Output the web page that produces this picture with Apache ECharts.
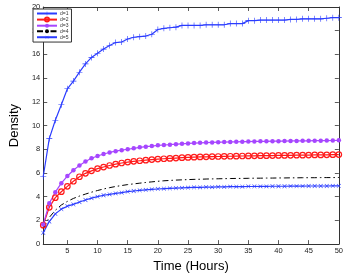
<!DOCTYPE html>
<html><head><meta charset="utf-8">
<script src="https://cdn.jsdelivr.net/npm/echarts@6/dist/echarts.min.js"></script>
<style>html,body{margin:0;padding:0;background:#fff}#c{width:346px;height:278px}</style>
</head><body><div id="c"></div>
<script>
const hours = Array.from({length:50},(_,i)=>i+1);
const xTicks = [5,10,15,20,25,30,35,40,45,50];
const seriesNames = ['d=1','d=2','d=3','d=4','d=5'];
const d1 = [5.7,8.9,10.45,11.75,13.1,13.75,14.5,15.2,15.75,16.1,16.45,16.75,17.0,17.05,17.3,17.45,17.5,17.55,17.7,18.1,18.2,18.25,18.3,18.45,18.45,18.45,18.45,18.5,18.5,18.5,18.5,18.6,18.6,18.6,18.85,18.85,18.9,18.9,18.9,18.9,18.9,18.95,18.95,19.0,19.0,19.0,19.0,19.05,19.1,19.1];
const d2 = [1.6,3.1,3.92,4.42,4.87,5.3,5.68,5.97,6.18,6.37,6.5,6.63,6.74,6.84,6.92,6.98,7.03,7.08,7.13,7.17,7.2,7.23,7.26,7.29,7.31,7.33,7.35,7.36,7.38,7.39,7.4,7.41,7.42,7.43,7.44,7.45,7.46,7.46,7.47,7.48,7.48,7.49,7.5,7.5,7.51,7.52,7.52,7.53,7.54,7.55];
const d3 = [1.65,3.45,4.38,5.14,5.74,6.23,6.64,6.97,7.24,7.43,7.6,7.73,7.84,7.92,8.0,8.08,8.16,8.22,8.27,8.33,8.36,8.39,8.43,8.46,8.49,8.52,8.54,8.56,8.58,8.6,8.61,8.62,8.63,8.64,8.65,8.66,8.67,8.67,8.68,8.68,8.69,8.7,8.7,8.71,8.71,8.72,8.72,8.73,8.74,8.75];
const d4 = [1.3,2.25,2.85,3.3,3.6,3.85,4.05,4.22,4.38,4.52,4.65,4.76,4.86,4.94,5.02,5.08,5.14,5.2,5.25,5.3,5.34,5.37,5.4,5.42,5.44,5.46,5.47,5.49,5.5,5.51,5.52,5.53,5.54,5.54,5.55,5.56,5.56,5.57,5.57,5.58,5.58,5.59,5.59,5.6,5.6,5.6,5.61,5.61,5.61,5.62];
const d5 = [0.95,1.9,2.55,2.95,3.2,3.35,3.55,3.72,3.88,4.0,4.12,4.2,4.28,4.35,4.42,4.48,4.53,4.57,4.61,4.65,4.68,4.7,4.72,4.74,4.76,4.78,4.79,4.8,4.81,4.82,4.83,4.84,4.85,4.85,4.86,4.86,4.87,4.87,4.88,4.88,4.88,4.89,4.89,4.89,4.9,4.9,4.9,4.9,4.91,4.91];

const pair = arr => arr.map((v,i)=>[hours[i], v]);
const plus = 'path://M4.5,0h1v4.5h4.5v1h-4.5v4.5h-1v-4.5h-4.5v-1h4.5z';
const font = 'Liberation Sans, Arial, sans-serif';
const blue = '#2b3cff';
const red = '#ff1a1a';

const chart = echarts.init(document.getElementById('c'), null, {renderer:'canvas'});
const tickStyle = {show:true, inside:true, length:4, lineStyle:{color:'#333', width:0.8}};
chart.setOption({
  animation:false,
  backgroundColor:'#fff',
  grid:{left:30, right:7, top:7, bottom:27, containLabel:false},
  legend:{
    orient:'vertical', left:33, top:9, data:seriesNames,
    backgroundColor:'#fff', borderColor:'#333', borderWidth:1, padding:[2,3,2,3],
    itemWidth:20, itemHeight:5, itemGap:0.6,
    textStyle:{fontSize:5, fontFamily:font, color:'#333', padding:[0,0,0,-2]}
  },
  xAxis:[{
    type:'value', min:1, max:50, position:'bottom',
    name:'Time (Hours)', nameLocation:'middle', nameGap:11,
    nameTextStyle:{fontSize:13, fontFamily:font, color:'#000'},
    axisLine:{show:true, onZero:false, lineStyle:{color:'#333', width:1}},
    axisTick:Object.assign({customValues:xTicks}, tickStyle),
    axisLabel:{customValues:xTicks, fontSize:7.5, fontFamily:font, color:'#222', margin:3},
    splitLine:{show:false}
  },{
    type:'value', min:1, max:50, position:'top',
    axisLine:{show:true, onZero:false, lineStyle:{color:'#333', width:1}},
    axisTick:Object.assign({customValues:xTicks}, tickStyle),
    axisLabel:{show:false}, splitLine:{show:false}
  }],
  yAxis:[{
    type:'value', min:0, max:20, interval:2, position:'left',
    name:'Density', nameLocation:'middle', nameGap:19,
    nameTextStyle:{fontSize:13, fontFamily:font, color:'#000'},
    axisLine:{show:true, onZero:false, lineStyle:{color:'#333', width:1}},
    axisTick:tickStyle,
    axisLabel:{fontSize:7.5, fontFamily:font, color:'#222', margin:3},
    splitLine:{show:false}
  },{
    type:'value', min:0, max:20, interval:2, position:'right',
    axisLine:{show:true, onZero:false, lineStyle:{color:'#333', width:1}},
    axisTick:tickStyle, axisLabel:{show:false}, splitLine:{show:false}
  }],
  series:[
    {name:'d=1', type:'line', data:pair(d1), symbol:plus, symbolSize:6,
     lineStyle:{color:blue, width:1.2}, itemStyle:{color:blue}},
    {name:'d=2', type:'line', data:pair(d2), symbol:'circle', symbolSize:5.5,
     lineStyle:{color:red, width:1.2}, itemStyle:{color:'rgba(255,255,255,0)', borderWidth:1.2, borderColor:red}},
    {name:'d=3', type:'line', data:pair(d3), symbol:'circle', symbolSize:4.5,
     lineStyle:{color:'#a646ff', width:1.2}, itemStyle:{color:'#a646ff'}},
    {name:'d=4', type:'line', data:pair(d4), symbol:'none', showSymbol:false,
     lineStyle:{color:'#000', width:1, type:[6,3,1.5,3]}, itemStyle:{color:'#000'}},
    {name:'d=5', type:'line', data:pair(d5), symbol:plus, symbolRotate:45, symbolSize:5.5,
     lineStyle:{color:blue, width:1.2}, itemStyle:{color:blue}}
  ]
});
</script></body></html>
